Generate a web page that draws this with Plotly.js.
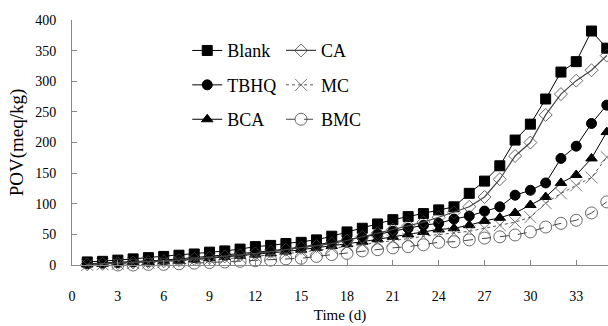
<!DOCTYPE html>
<html>
<head>
<meta charset="utf-8">
<script src="https://cdn.plot.ly/plotly-3.0.1.min.js"></script>
<style>html,body{margin:0;padding:0;background:#fff;}#chart{width:608px;height:326px;}</style>
</head>
<body>
<div id="chart"></div>
<script>
const days = [1,2,3,4,5,6,7,8,9,10,11,12,13,14,15,16,17,18,19,20,21,22,23,24,25,26,27,28,29,30,31,32,33,34,35];
const blank = [5,6,8,10,12,14,16,18,21,23,26,30,32,35,37,41,47,54,60,67,74,79,84,90,95,117,137,162,204,230,271,315,332,382,354];
const ca    = [1,2,3,4,5,6,8,10,12,14,16,19,22,25,28,31,35,40,46,52,58,64,70,78,86,95,111,140,178,200,245,279,301,318,342];
const tbhq  = [2,3,4,5,6,8,10,12,14,16,18,20,23,26,29,33,37,41,45,50,55,60,65,68,75,80,88,95,114,122,134,174,194,231,261];
const mc    = [0,1,2,3,4,5,6,7,9,10,12,14,16,18,21,24,27,31,34,37,40,43,47,50,52,55,60,65,70,78,101,117,130,143,176];
const bca   = [1,2,3,4,5,6,7,9,11,13,15,17,19,22,25,28,31,34,38,42,46,50,54,58,60,65,72,77,85,98,111,134,147,174,217];
const bmc   = [-1,-1,0,0,1,1,2,3,4,5,6,7,8,10,11,14,17,19,23,25,28,30,33,37,38,41,44,46,49,54,62,68,73,85,103];
const xTicks = [0,3,6,9,12,15,18,21,24,27,30,33];
const yTicks = [0,50,100,150,200,250,300,350,400];

const FONT = 'Liberation Serif, Times New Roman, serif';
function tr(name, y, symbol, color, dash, lw, legend, grp, msize, mline) {
  return {
    x: days, y: y, name: name, type: 'scatter', mode: 'lines+markers',
    cliponaxis: false, legend: legend, legendgroup: grp,
    line: {color: color, width: lw, dash: dash},
    marker: {symbol: symbol, size: msize, color: color, line: {color: color, width: mline}}
  };
}
const data = [
  tr('Blank', blank, 'square', '#000', 'solid', 1, 'legend', 'a', 10, 1),
  tr('TBHQ', tbhq, 'circle', '#000', 'solid', 1, 'legend', 'b', 10, 1),
  tr('BCA', bca, 'triangle-up', '#000', 'solid', 1, 'legend', 'c', 10, 1),
  tr('CA', ca, 'diamond-open', '#444', 'solid', 1.2, 'legend2', 'd', 10, 0.8),
  tr('MC', mc, 'x-thin-open', '#555', 'dot', 1, 'legend2', 'e', 12, 0.8),
  tr('BMC', bmc, 'circle-open', '#444', 'dash', 1, 'legend2', 'f', 12, 0.8)
];
const legendCommon = {
  font: {family: FONT, size: 18, color: '#000'},
  bgcolor: 'rgba(0,0,0,0)', borderwidth: 0, tracegroupgap: 8,
  xanchor: 'left', yanchor: 'top', itemwidth: 30
};
const layout = {
  width: 608, height: 326,
  margin: {l: 72, r: 0, t: 20, b: 61},
  paper_bgcolor: '#fff', plot_bgcolor: '#fff',
  font: {family: FONT, color: '#000'},
  showlegend: true,
  legend: Object.assign({x: 0.215, y: 0.95}, legendCommon),
  legend2: Object.assign({x: 0.39, y: 0.95}, legendCommon),
  xaxis: {
    range: [0, 35.08], tickvals: xTicks, ticktext: xTicks.map(String),
    ticks: 'inside', ticklen: 5, tickcolor: '#888', showline: true, linecolor: '#888', linewidth: 1,
    showgrid: false, zeroline: false, tickfont: {family: FONT, size: 14, color: '#000'},
    ticklabelstandoff: 18,
    title: {text: 'Time (d)', font: {family: FONT, size: 15, color: '#000'}, standoff: 6}
  },
  yaxis: {
    range: [0, 400], tickvals: yTicks, ticktext: yTicks.map(String),
    ticks: 'inside', ticklen: 5, tickcolor: '#888', showline: true, linecolor: '#888', linewidth: 1,
    showgrid: false, zeroline: false, tickfont: {family: FONT, size: 14, color: '#000'},
    ticklabelstandoff: 12,
    title: {text: 'POV(meq/kg)', font: {family: FONT, size: 19, color: '#000'}, standoff: 6}
  }
};
Plotly.newPlot('chart', data, layout, {displayModeBar: false, staticPlot: true});
</script>
</body>
</html>
